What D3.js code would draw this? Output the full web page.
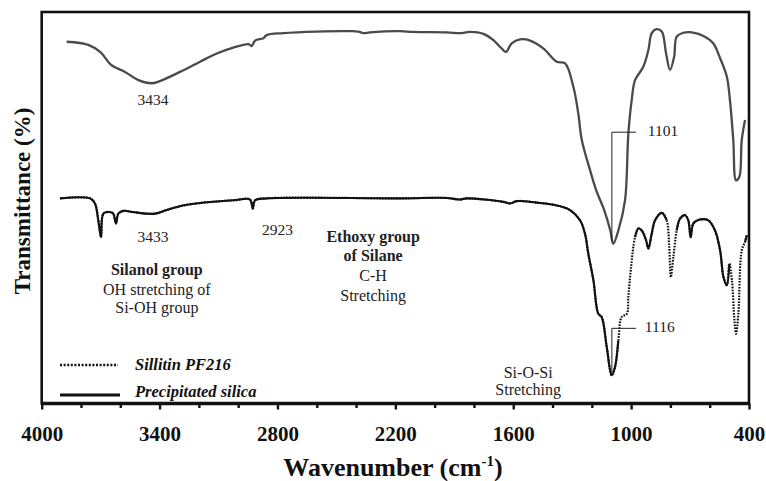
<!DOCTYPE html>
<html>
<head>
<meta charset="utf-8">
<script src="https://cdn.jsdelivr.net/npm/d3@7"></script>
<style>
  body { margin: 0; background: #fff; }
  svg { display: block; font-family: "Liberation Serif", "Times New Roman", serif; }
</style>
</head>
<body>
<div id="chart"></div>
<script>
// Width and height
var chart_width  = 766;
var chart_height = 481;

// x ticks (wavenumber, cm-1)
var major_ticks = [4000, 3400, 2800, 2200, 1600, 1000, 400];
var minor_ticks = [3800, 3600, 3200, 3000, 2600, 2400, 2000, 1800, 1400, 1200, 800, 600];

// upper trace (grey)
var upper_wn = [3873, 3763, 3703, 3644, 3576, 3508, 3440, 3406, 3296, 3194, 3109, 3025, 2948, 2931, 2914,
    2872, 2855, 2770, 2600, 2431, 2388, 2363, 2329, 2176, 2109, 1939, 1871, 1820, 1752, 1701, 1659, 1637,
    1608, 1565, 1514, 1447, 1379, 1336, 1294, 1269, 1251, 1209, 1178, 1137, 1106, 1091, 1065, 1031, 1014,
    997, 980, 938, 912, 895, 870, 844, 822, 802, 781, 768, 734, 691, 624, 582, 547, 513, 497, 480, 466,
    449, 437, 420];
var upper_t = [92.4, 91.6, 89.8, 86.4, 84.7, 82.6, 81.8, 82.2, 84.7, 87.3, 89.4, 90.9, 91.8, 91.3, 92.7,
    93.3, 94.1, 94.6, 95.0, 95.1, 95.0, 94.6, 94.8, 95.1, 94.9, 94.8, 94.6, 94.9, 94.4, 92.8, 90.7, 89.8,
    92.0, 93.0, 92.7, 90.7, 87.3, 86.9, 80.9, 74.1, 67.3, 59.6, 54.5, 49.4, 44.2, 40.8, 44.2, 51.9, 69.0,
    77.5, 82.6, 86.0, 90.3, 94.6, 95.6, 95.0, 89.4, 85.2, 88.6, 93.7, 94.7, 94.8, 93.7, 92.0, 88.2, 83.5,
    77.5, 67.3, 57.0, 57.9, 67.3, 72.4];

// lower trace (black)
var lower_wn = [3907, 3754, 3729, 3712, 3698, 3686, 3652, 3636, 3622, 3610, 3585, 3534, 3466, 3423, 3364,
    3296, 3194, 3025, 2940, 2926, 2914, 2855, 2176, 1939, 1871, 1837, 1650, 1616, 1582, 1480, 1379, 1311,
    1260, 1235, 1218, 1192, 1167, 1150, 1124, 1099, 1082, 1065, 1048, 1022, 1014, 1002, 980, 963, 946,
    924, 912, 895, 878, 844, 819, 806, 798, 785, 768, 751, 726, 709, 697, 683, 649, 607, 573, 547, 530,
    513, 500, 487, 474, 466, 454, 437, 420, 411];
var lower_t = [52.4, 52.4, 51.1, 46.8, 42.5, 48.5, 48.9, 48.5, 46.0, 48.5, 49.2, 48.9, 48.5, 48.5, 49.4,
    50.4, 51.2, 51.9, 52.1, 49.8, 51.9, 52.4, 52.4, 52.5, 52.1, 52.4, 51.5, 51.1, 51.7, 51.3, 50.6, 49.4,
    46.8, 43.4, 38.3, 31.5, 22.9, 22.1, 14.4, 7.2, 9.3, 16.1, 22.1, 22.9, 27.2, 34.0, 42.5, 44.7, 44.2,
    41.7, 39.6, 43.4, 46.8, 48.7, 46.8, 40.0, 32.3, 37.4, 44.2, 47.2, 48.1, 46.8, 42.5, 46.0, 47.0, 46.8,
    44.2, 39.1, 32.3, 30.2, 35.7, 31.5, 21.2, 17.8, 23.0, 39.1, 41.3, 43.0];

// wavenumber bands where only the dotted Sillitin trace shows
var dotted_bands = [[990, 1058], [776, 815], [425, 490]];

var legend_names = ["Sillitin PF216", "Precipitated silica"];

var upper_data = upper_wn.map(function(w, i){ return {wn: w, t: upper_t[i]}; });
var lower_data = lower_wn.map(function(w, i){ return {wn: w, t: lower_t[i]}; });

var plot_left = 41.7, plot_right = 749, plot_top = 12, plot_bottom = 403.5;

var x = d3.scaleLinear().domain([4000, 400]).range([plot_left, plot_right]);
var y = d3.scaleLinear().domain([0, 100]).range([plot_bottom, plot_top]);

var svg = d3.select("#chart")
    .append("svg")
    .attr("width", chart_width)
    .attr("height", chart_height);

function in_dotted(w){
    return dotted_bands.some(function(b){ return w >= b[0] && w <= b[1]; });
}

var line = d3.line()
    .x(function(d){ return x(d.wn); })
    .y(function(d){ return y(d.t); })
    .curve(d3.curveCatmullRom.alpha(0.5));

// upper trace
svg.append("path")
    .datum(upper_data)
    .attr("d", line)
    .attr("fill", "none")
    .attr("stroke", "#4a4a4a")
    .attr("stroke-width", 2.3)
    .attr("stroke-linejoin", "round");

// lower trace: dotted everywhere, solid overlay outside the dotted bands
svg.append("path")
    .datum(lower_data)
    .attr("d", line)
    .attr("fill", "none")
    .attr("stroke", "#111")
    .attr("stroke-width", 2.2)
    .attr("stroke-dasharray", "1.6,1.3");

svg.append("path")
    .datum(lower_data)
    .attr("d", line.defined(function(d){ return !in_dotted(d.wn); }))
    .attr("fill", "none")
    .attr("stroke", "#111")
    .attr("stroke-width", 2.1)
    .attr("stroke-linejoin", "round");

// frame
svg.append("rect")
    .attr("x", plot_left).attr("y", plot_top)
    .attr("width", plot_right - plot_left).attr("height", plot_bottom - plot_top)
    .attr("fill", "none")
    .attr("stroke", "#111")
    .attr("stroke-width", 2.6);

svg.append("line")
    .attr("x1", plot_left).attr("x2", plot_right)
    .attr("y1", plot_bottom).attr("y2", plot_bottom)
    .attr("stroke", "#111")
    .attr("stroke-width", 3.6);

// x axis
var axis_g = svg.append("g")
    .attr("transform", "translate(0," + plot_bottom + ")")
    .call(d3.axisBottom(x).tickValues(major_ticks).tickSize(6).tickPadding(17)
        .tickFormat(d3.format("d")));
axis_g.select(".domain").remove();
axis_g.selectAll(".tick line").attr("stroke", "#111").attr("stroke-width", 2.4);
axis_g.selectAll(".tick text")
    .attr("fill", "#111")
    .style("font-family", "'Liberation Serif', serif")
    .style("font-size", "21px")
    .style("font-weight", "bold");

svg.append("g")
    .attr("transform", "translate(0," + plot_bottom + ")")
    .call(d3.axisBottom(x).tickValues(minor_ticks).tickSize(4.5).tickFormat(""))
    .call(function(g){
        g.select(".domain").remove();
        g.selectAll(".tick line").attr("stroke", "#111").attr("stroke-width", 2.4);
    });

// axis titles
var xt = svg.append("text")
    .attr("x", 393).attr("y", 476)
    .attr("text-anchor", "middle")
    .attr("fill", "#111")
    .style("font-size", "26px")
    .style("font-weight", "bold");
xt.append("tspan").text("Wavenumber (cm");
xt.append("tspan").attr("dy", -10).style("font-size", "15px").text("-1");
xt.append("tspan").attr("dy", 10).text(")");

svg.append("text")
    .attr("transform", "translate(30,201) rotate(-90)")
    .attr("text-anchor", "middle")
    .attr("fill", "#111")
    .style("font-size", "23px")
    .style("font-weight", "bold")
    .text("Transmittance (%)");

// peak labels
function label(txt, wn, t, opts){
    opts = opts || {};
    svg.append("text")
        .attr("x", x(wn)).attr("y", y(t))
        .attr("text-anchor", opts.anchor || "middle")
        .attr("fill", "#222")
        .style("font-size", (opts.size || 15.5) + "px")
        .style("font-weight", opts.bold ? "bold" : "normal")
        .style("font-style", opts.italic ? "italic" : "normal")
        .text(txt);
}

label("3434", 3434, 76.3);
label("3433", 3434, 41.2);
label("2923", 2800, 43.0);

label("Silanol group", 3414, 32.7, {bold: true, size: 16});
label("OH stretching of", 3414, 27.8, {size: 16});
label("Si-OH group", 3414, 23.0, {size: 16});

label("Ethoxy group", 2313, 41.2, {bold: true, size: 16});
label("of Silane", 2313, 36.4, {bold: true, size: 16});
label("C-H", 2313, 31.2, {size: 16});
label("Stretching", 2313, 26.2, {size: 16});

label("Si-O-Si", 1524, 6.6, {size: 16});
label("Stretching", 1524, 2.2, {size: 16});

// leader lines
function leader(wn, t_top, t_bot, wn_end){
    svg.append("polyline")
        .attr("points", [[x(wn_end), y(t_top)], [x(wn), y(t_top)], [x(wn), y(t_bot)]].join(" "))
        .attr("fill", "none")
        .attr("stroke", "#222")
        .attr("stroke-width", 1);
}
leader(1098, 69.3, 41.5, 975);
leader(1098, 19.2, 7.4, 975);
label("1101", 915, 68.3, {anchor: "start"});
label("1116", 930, 18.3, {anchor: "start"});

// legend
var legend = svg.append("g");
legend.append("line")
    .attr("x1", 60).attr("x2", 118).attr("y1", 365).attr("y2", 365)
    .attr("stroke", "#111").attr("stroke-width", 2.4).attr("stroke-dasharray", "2,1.6");
legend.append("line")
    .attr("x1", 60).attr("x2", 120).attr("y1", 395).attr("y2", 395)
    .attr("stroke", "#111").attr("stroke-width", 3);
legend.selectAll("text.leg")
    .data(legend_names)
    .enter()
    .append("text")
    .attr("class", "leg")
    .attr("x", 135)
    .attr("y", function(d, i){ return i === 0 ? 369.5 : 397; })
    .attr("fill", "#111")
    .style("font-size", "16.5px")
    .style("font-weight", "bold")
    .style("font-style", "italic")
    .text(function(d){ return d; });
</script>
</body>
</html>
